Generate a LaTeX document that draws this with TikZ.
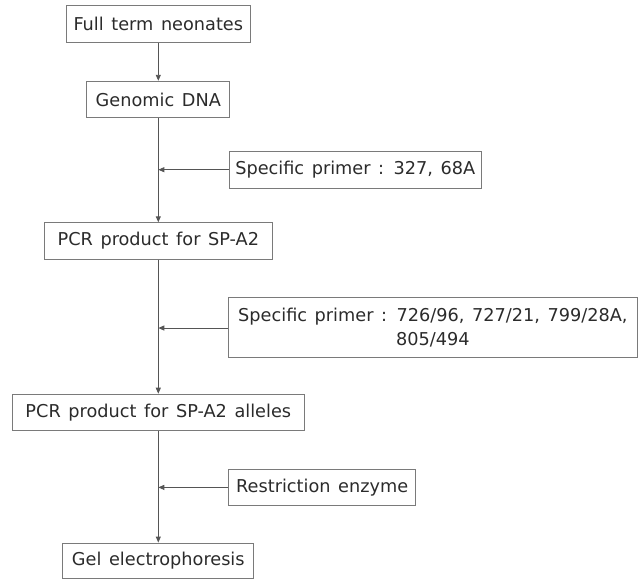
\documentclass[tikz,border=0pt]{standalone}
\usepackage{fontspec}
\setmainfont[WordSpace=1.35]{DejaVu Sans}
\usepackage{xcolor}
\usepackage{tikz}
\usetikzlibrary{arrows.meta}
\definecolor{ink}{HTML}{2B2B2B}
\definecolor{edge}{HTML}{7A7A7A}
\definecolor{wire}{HTML}{555555}
\tikzset{
  box/.style={draw=edge, line width=0.9pt, minimum height=36.5pt, inner sep=0pt,
    text=ink, font=\fontsize{17.7}{23.5}\selectfont, align=center},
  arr/.style={draw=wire, line width=0.9pt, -{Triangle[length=6pt,width=5pt]}}
}

\begin{document}
\begin{tikzpicture}[x=1pt,y=1pt]
  \useasboundingbox (0,0) rectangle (639,-579);
  % steps on the main line
  \node[box,minimum width=183.3pt] (full) at (158.3,-24) {Full term neonates};
  \node[box,minimum width=143pt] (genomic) at (158.3,-99.5) {Genomic DNA};
  \node[box,minimum width=227.7pt] (pcr) at (158.3,-241) {PCR product for SP-A2};
  \node[box,minimum width=291.3pt] (alleles) at (158.3,-412.4) {PCR product for SP-A2 alleles};
  \node[box,minimum width=191pt,minimum height=35pt] (gel) at (158.3,-560.5) {Gel electrophoresis};
  % side inputs
  \node[box,minimum width=252.7pt] (primerA) at (355.3,-169.7) {Specific primer : 327, 68A};
  \node[box,minimum width=408.3pt,minimum height=59.3pt] (primerB) at (432.9,-327.4)
    {Specific primer : 726/96, 727/21, 799/28A,\\805/494};
  \node[box,minimum width=187pt] (enzyme) at (322.2,-487.4) {Restriction enzyme};
  \coordinate (jA) at (158.3,-169.7);
  \coordinate (jB) at (158.3,-328);
  \coordinate (jC) at (158.3,-487.4);
  \draw[arr] (full) -- (genomic);
  \draw[arr] (genomic) -- (pcr);
  \draw[arr] (pcr) -- (alleles);
  \draw[arr] (alleles) -- (gel);
  \draw[arr] (primerA) -- (jA);
  \draw[arr] (primerB.west |- jB) -- (jB);
  \draw[arr] (enzyme) -- (jC);
\end{tikzpicture}
\end{document}
